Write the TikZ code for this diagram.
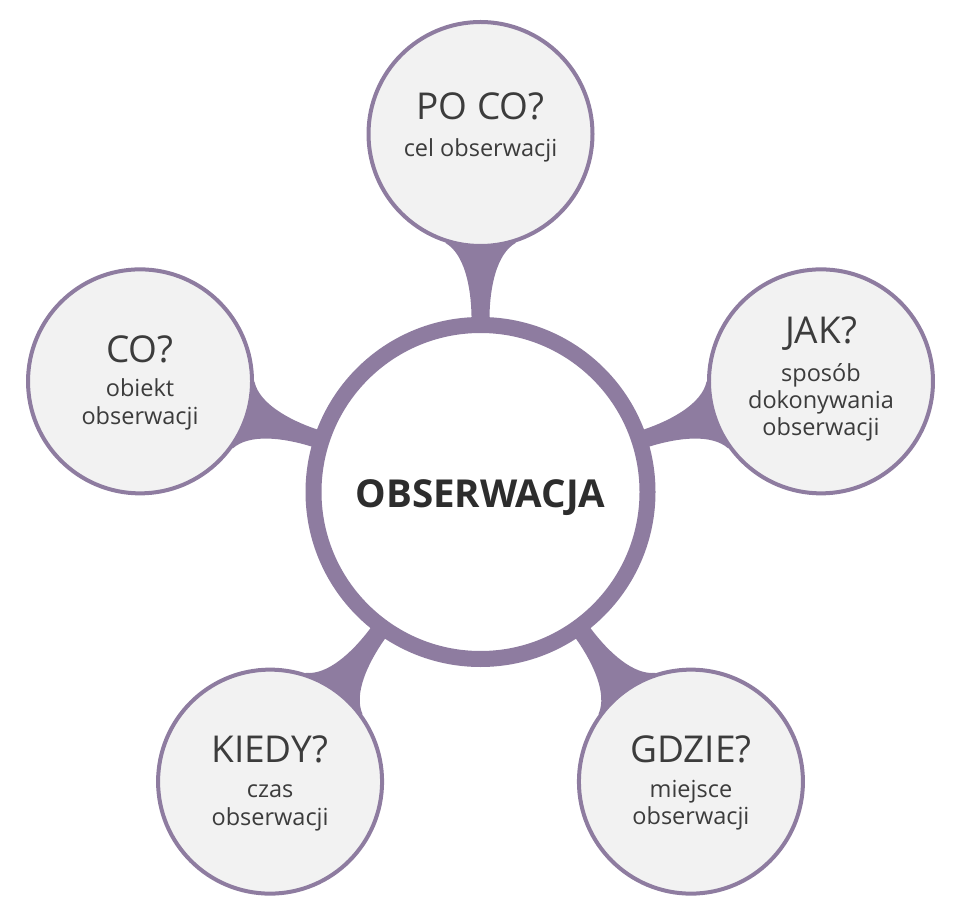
\documentclass[tikz,border=0pt]{standalone}
\usepackage{fontspec}
\setmainfont{Open Sans}
\IfFontExistsTF{Open Sans SemiBold}
  {\newfontfamily\mainfam{Open Sans SemiBold}}
  {\newcommand\mainfam{\bfseries}}
\usetikzlibrary{calc,backgrounds}
\definecolor{pur}{HTML}{8E7CA0}
\definecolor{grayfill}{HTML}{F2F2F2}
\definecolor{txt}{HTML}{3C3C3C}
\definecolor{txtdark}{HTML}{2D2D2D}
\newcommand\np[4]{($(#1.center)!#3pt!(#2.center)!#4:(#2.center)$)}
\newcommand\neck[2]{%
  \fill[pur]
    \np{#1}{#2}{165}{9pt!90}
    -- \np{#1}{#2}{176}{9pt!90}
    .. controls \np{#1}{#2}{205}{9.5pt!90} and \np{#1}{#2}{238}{16pt!90}
    .. \np{#1}{#2}{249}{35pt!90}
    -- \np{#1}{#2}{300}{35pt!90}
    -- \np{#1}{#2}{300}{35pt!-90}
    -- \np{#1}{#2}{249}{35pt!-90}
    .. controls \np{#1}{#2}{238}{16pt!-90} and \np{#1}{#2}{205}{9.5pt!-90}
    .. \np{#1}{#2}{176}{9pt!-90}
    -- \np{#1}{#2}{165}{9pt!-90} -- cycle;}
\tikzset{
  sat/.style={circle, draw=pur, line width=4pt, fill=grayfill, minimum size=224pt, inner sep=0pt},
  hub/.style={circle, draw=pur, line width=16pt, fill=white, minimum size=334pt, inner sep=0pt},
  ttl/.style={anchor=base, inner sep=0pt, text=txt, font=\fontsize{37}{44}\selectfont},
  sub/.style={anchor=base, inner sep=0pt, text=txt, font=\fontsize{23.5}{28}\selectfont},
  main/.style={anchor=base, inner sep=0pt, text=txtdark, font=\fontsize{38.5}{44}\selectfont\mainfam}
}
\begin{document}
\begin{tikzpicture}[x=1pt,y=1pt]
\useasboundingbox (0,0) rectangle (960,919);
\node[hub] (c) at (480.5,427) {};
\node[sat] (s1) at ($(c.center)+(90:358)$) {};
\node[sat] (s2) at ($(c.center)+(18:358)$) {};
\node[sat] (s3) at ($(c.center)+(306:358)$) {};
\node[sat] (s4) at ($(c.center)+(234:358)$) {};
\node[sat] (s5) at ($(c.center)+(162:358)$) {};
\begin{scope}[on background layer]
  \neck{c}{s1}
  \neck{c}{s2}
  \neck{c}{s3}
  \neck{c}{s4}
  \neck{c}{s5}
\end{scope}
\node[main] (m) at ($(c.center)+(0,-16)$) {OBSERWACJA};
% top
\node[ttl] (t1) at ($(s1.center)+(0,14)$) {PO CO?};
\node[sub] (t1a) at ($(s1.center)+(0,-23)$) {cel obserwacji};
% right
\node[ttl] (t2) at ($(s2.center)+(0,38)$) {JAK?};
\node[sub] (t2a) at ($(s2.center)+(0,0)$) {sposób};
\node[sub] (t2b) at ($(s2.center)+(0,-27)$) {dokonywania};
\node[sub] (t2c) at ($(s2.center)+(0,-54)$) {obserwacji};
% bottom right
\node[ttl] (t3) at ($(s3.center)+(0,19)$) {GDZIE?};
\node[sub] (t3a) at ($(s3.center)+(0,-16)$) {miejsce};
\node[sub] (t3b) at ($(s3.center)+(0,-43)$) {obserwacji};
% bottom left
\node[ttl] (t4) at ($(s4.center)+(0,19)$) {KIEDY?};
\node[sub] (t4a) at ($(s4.center)+(0,-16)$) {czas};
\node[sub] (t4b) at ($(s4.center)+(0,-44)$) {obserwacji};
% left
\node[ttl] (t5) at ($(s5.center)+(0,19)$) {CO?};
\node[sub] (t5a) at ($(s5.center)+(0,-15)$) {obiekt};
\node[sub] (t5b) at ($(s5.center)+(0,-43)$) {obserwacji};
\end{tikzpicture}
\end{document}
